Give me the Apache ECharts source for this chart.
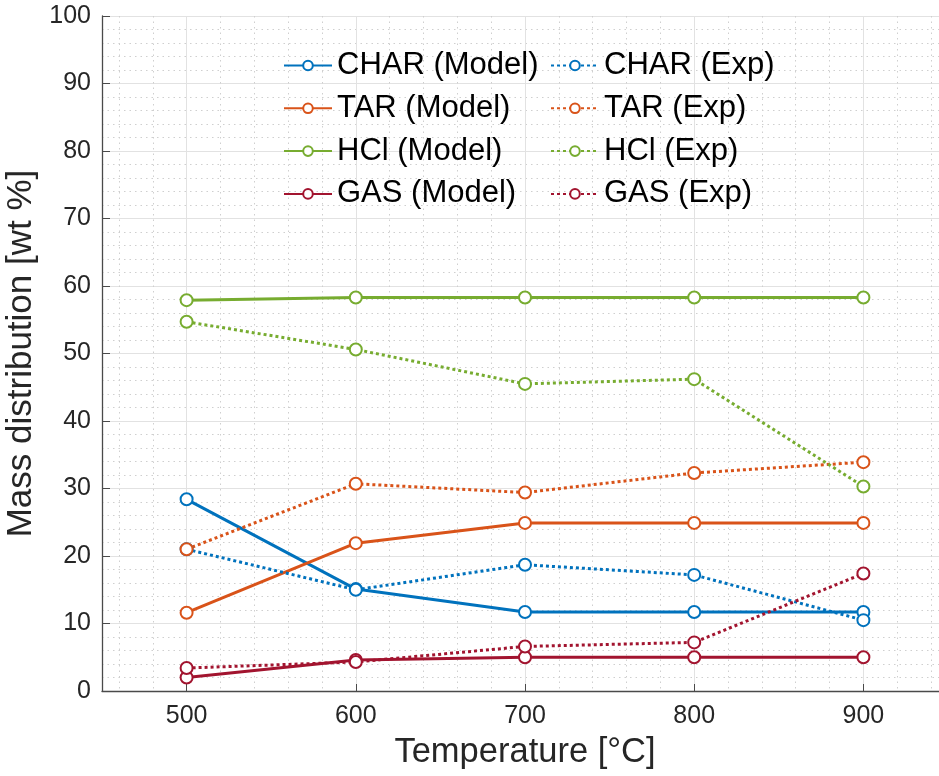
<!DOCTYPE html>
<html>
<head>
<meta charset="utf-8">
<script src="https://cdn.jsdelivr.net/npm/echarts@6/dist/echarts.min.js"></script>
<style>html,body{margin:0;padding:0;background:#fff}#c{width:939px;height:776px}</style>
</head>
<body>
<div id="c"></div>
<script>
const temperatures = [500, 600, 700, 800, 900];
const charModel = [28.4, 15.1, 11.7, 11.7, 11.7];
const tarModel  = [11.6, 21.9, 24.9, 24.9, 24.9];
const hclModel  = [57.9, 58.3, 58.3, 58.3, 58.3];
const gasModel  = [2.0, 4.6, 5.0, 5.0, 5.0];
const charExp = [21.0, 15.0, 18.7, 17.2, 10.5];
const tarExp  = [21.0, 30.7, 29.4, 32.3, 33.9];
const hclExp  = [54.7, 50.6, 45.5, 46.2, 30.3];
const gasExp  = [3.4, 4.3, 6.6, 7.2, 17.4];
const modelNames = ['CHAR (Model)', 'TAR (Model)', 'HCl (Model)', 'GAS (Model)'];
const expNames = ['CHAR (Exp)', 'TAR (Exp)', 'HCl (Exp)', 'GAS (Exp)'];
const colors = ['#0072BD', '#D95319', '#77AC30', '#A2142F'];

const FONT = "'Liberation Sans', Arial, Helvetica, sans-serif";
const pair = (ys) => temperatures.map((t, i) => [t, ys[i]]);

function mk(name, data, color, dotted) {
  return {
    name, type: 'line', data: pair(data),
    symbol: 'emptyCircle', symbolSize: 12,
    itemStyle: { color, borderWidth: 2.8 },
    lineStyle: { color, width: 3, type: dotted ? [3, 3] : 'solid', cap: 'butt' },
    emphasis: { disabled: true },
    animation: false, clip: true
  };
}

const series = [
  mk(modelNames[0], charModel, colors[0], false),
  mk(modelNames[1], tarModel, colors[1], false),
  mk(modelNames[2], hclModel, colors[2], false),
  mk(modelNames[3], gasModel, colors[3], false),
  mk(expNames[0], charExp, colors[0], true),
  mk(expNames[1], tarExp, colors[1], true),
  mk(expNames[2], hclExp, colors[2], true),
  mk(expNames[3], gasExp, colors[3], true)
];

const legendCommon = {
  orient: 'vertical', top: 50, itemWidth: 48, itemHeight: 12, itemGap: 11.8,
  textStyle: { fontFamily: FONT, fontSize: 31, lineHeight: 30, color: '#000' },
  selectedMode: false, padding: 0
};

const chart = echarts.init(document.getElementById('c'), null, { renderer: 'canvas' });
chart.setOption({
  backgroundColor: '#fff',
  animation: false,
  color: colors,
  legend: [
    Object.assign({ left: 283, data: modelNames }, legendCommon),
    Object.assign({ left: 550, data: expNames }, legendCommon)
  ],
  grid: { left: 102, top: 16, bottom: 85, right: -9, containLabel: false, outerBoundsMode: 'none' },
  xAxis: {
    type: 'value', min: 450, max: 950, splitNumber: 5,
    name: 'Temperature [°C]', nameLocation: 'middle', nameGap: 44,
    nameTextStyle: { fontFamily: FONT, fontSize: 34.5, color: '#262626' },
    axisLine: { show: true, onZero: false, lineStyle: { color: '#4a4a4a', width: 1.3 } },
    axisTick: { show: true, inside: true, length: 7, lineStyle: { color: '#4a4a4a' } },
    axisLabel: { showMinLabel: false, showMaxLabel: false, fontFamily: FONT, fontSize: 25, color: '#262626', margin: 13 },
    splitLine: { show: true, lineStyle: { color: '#e2e2e2', width: 1 } },
    minorTick: { show: false, splitNumber: 5 },
    minorSplitLine: { show: true, lineStyle: { color: '#cfcfcf', width: 1, type: [1.5, 4] } }
  },
  yAxis: {
    type: 'value', min: 0, max: 100, interval: 10,
    name: 'Mass distribution [wt %]', nameLocation: 'middle', nameGap: 57, nameRotate: 90,
    nameTextStyle: { fontFamily: FONT, fontSize: 35, color: '#262626' },
    axisLine: { show: true, lineStyle: { color: '#4a4a4a', width: 1.3 } },
    axisTick: { show: true, inside: true, length: 8, lineStyle: { color: '#4a4a4a' } },
    axisLabel: { fontFamily: FONT, fontSize: 25, color: '#262626', margin: 11 },
    splitLine: { show: true, lineStyle: { color: '#e2e2e2', width: 1 } },
    minorTick: { show: false, splitNumber: 5 },
    minorSplitLine: { show: true, lineStyle: { color: '#cfcfcf', width: 1, type: [1.5, 4] } }
  },
  series
});
</script>
</body>
</html>
